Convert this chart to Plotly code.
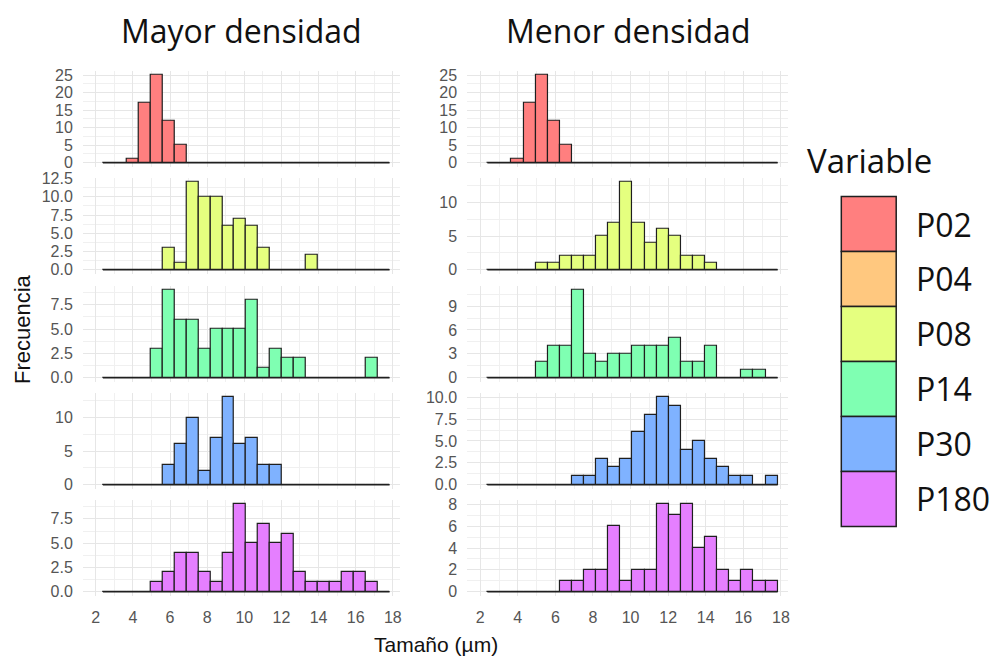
import plotly.graph_objects as go

# Canvas size in pixels
W, H = 998, 661

# Legend categories and their fill colours
variables = ["P02", "P04", "P08", "P14", "P30", "P180"]
fills = ["#FF7F7F", "#FFC87F", "#E5FF7F", "#7FFFB2", "#7FB2FF", "#E57FFF"]

# Facet layout: one row per variable, one column per density group
panel_vars = ["P02", "P08", "P14", "P30", "P180"]
groups = ["Mayor densidad", "Menor densidad"]

# Histogram binning shared by every panel
bin_start = 2.38
bin_width = 0.6437
n_bins = 24

# Counts per bin (24 bins)
mayor_P02 = [0, 0, 1, 17, 25, 12, 5, 0, 0, 0, 0, 0, 0, 0, 0, 0, 0, 0, 0, 0, 0, 0, 0, 0]
mayor_P08 = [0, 0, 0, 0, 0, 3, 1, 12, 10, 10, 6, 7, 6, 3, 0, 0, 0, 2, 0, 0, 0, 0, 0, 0]
mayor_P14 = [0, 0, 0, 0, 3, 9, 6, 6, 3, 5, 5, 5, 8, 1, 3, 2, 2, 0, 0, 0, 0, 0, 2, 0]
mayor_P30 = [0, 0, 0, 0, 0, 3, 6, 10, 2, 7, 13, 6, 7, 3, 3, 0, 0, 0, 0, 0, 0, 0, 0, 0]
mayor_P180 = [0, 0, 0, 0, 1, 2, 4, 4, 2, 1, 4, 9, 5, 7, 5, 6, 2, 1, 1, 1, 2, 2, 1, 0]

menor_P02 = [0, 0, 1, 17, 25, 12, 5, 0, 0, 0, 0, 0, 0, 0, 0, 0, 0, 0, 0, 0, 0, 0, 0, 0]
menor_P08 = [0, 0, 0, 0, 1, 1, 2, 2, 2, 5, 7, 13, 7, 4, 6, 5, 2, 2, 1, 0, 0, 0, 0, 0]
menor_P14 = [0, 0, 0, 0, 2, 4, 4, 11, 3, 2, 3, 3, 4, 4, 4, 5, 2, 2, 4, 0, 0, 1, 1, 0]
menor_P30 = [0, 0, 0, 0, 0, 0, 0, 1, 1, 3, 2, 3, 6, 8, 10, 9, 4, 5, 3, 2, 1, 1, 0, 1]
menor_P180 = [0, 0, 0, 0, 0, 0, 1, 1, 2, 2, 6, 1, 2, 2, 8, 7, 8, 4, 5, 2, 1, 2, 1, 1]

x_ticks = [2, 4, 6, 8, 10, 12, 14, 16, 18]

counts = {
    "Mayor densidad": {"P02": mayor_P02, "P08": mayor_P08, "P14": mayor_P14,
                       "P30": mayor_P30, "P180": mayor_P180},
    "Menor densidad": {"P02": menor_P02, "P08": menor_P08, "P14": menor_P14,
                       "P30": menor_P30, "P180": menor_P180},
}

# y tick spacing per panel (row, column)
y_step = {
    (0, 0): 5, (0, 1): 5,
    (1, 0): 2.5, (1, 1): 5,
    (2, 0): 2.5, (2, 1): 3,
    (3, 0): 5, (3, 1): 2.5,
    (4, 0): 2.5, (4, 1): 2,
}

# Panel placement in pixels
col_px = [(83, 401), (468, 790)]
row_px = [(64, 162), (173, 271), (283, 381), (392, 490), (501, 599)]
x_range = [1.3, 18.4]

edges = [bin_start + i * bin_width for i in range(n_bins + 1)]
centers = [(edges[i] + edges[i + 1]) / 2 for i in range(n_bins)]

TICK_FONT = dict(family="Liberation Sans, Arial, sans-serif", size=16, color="#555555")
AXIS_FONT = "Liberation Sans, Arial, sans-serif"
BIG_FONT = "Open Sans, Noto Sans, sans-serif"
OUTLINE = "#1f1f1f"

fig = go.Figure()
layout_axes = {}

for r, var in enumerate(panel_vars):
    color = fills[variables.index(var)]
    for c, grp in enumerate(groups):
        k = r * 2 + c + 1
        xa = "x" if k == 1 else f"x{k}"
        ya = "y" if k == 1 else f"y{k}"
        vals = counts[grp][var]
        ymax = max(vals)

        fig.add_trace(go.Bar(
            x=centers, y=vals, width=bin_width,
            marker=dict(color=color, line=dict(color=OUTLINE, width=1.2)),
            xaxis=xa, yaxis=ya, showlegend=False, hoverinfo="x+y",
        ))
        # outline of the empty bins along the base
        fig.add_trace(go.Scatter(
            x=[edges[0], edges[-1]], y=[0, 0], mode="lines",
            line=dict(color=OUTLINE, width=1.4),
            xaxis=xa, yaxis=ya, showlegend=False, hoverinfo="skip",
        ))

        x0, x1 = col_px[c]
        y0, y1 = row_px[r]
        step = y_step[(r, c)]
        kx = "xaxis" if k == 1 else f"xaxis{k}"
        ky = "yaxis" if k == 1 else f"yaxis{k}"
        layout_axes[kx] = dict(
            domain=[x0 / W, x1 / W], range=x_range, anchor=ya,
            tickmode="array", tickvals=x_ticks,
            showticklabels=(r == len(panel_vars) - 1),
            tickfont=TICK_FONT, ticks="", ticklabelstandoff=10,
            showline=False, zeroline=False,
            showgrid=True, gridcolor="#e6e6e6", gridwidth=1,
            minor=dict(tickmode="array", tickvals=[t + 1 for t in x_ticks[:-1]],
                       showgrid=True, gridcolor="#f0f0f0", gridwidth=0.8),
        )
        layout_axes[ky] = dict(
            domain=[1 - y1 / H, 1 - y0 / H],
            range=[-0.05 * ymax, 1.05 * ymax], anchor=xa,
            tick0=0, dtick=step, tickformat=".1f" if step == 2.5 else "d",
            tickfont=TICK_FONT, ticks="", ticklabelstandoff=9,
            showline=False, zeroline=False,
            showgrid=True, gridcolor="#e6e6e6", gridwidth=1,
            minor=dict(tick0=0, dtick=step / 2, showgrid=True,
                       gridcolor="#f0f0f0", gridwidth=0.8),
        )

annotations = []
# Column titles
for c, grp in enumerate(groups):
    x0, x1 = col_px[c]
    annotations.append(dict(
        text=grp, x=(x0 + x1) / 2 / W, y=1 - 23 / H, xref="paper", yref="paper",
        showarrow=False, xanchor="center", yanchor="middle",
        font=dict(family=BIG_FONT, size=32, color="#111"),
    ))
# Axis titles
annotations.append(dict(
    text="Tamaño (µm)", x=437 / W, y=1 - 648 / H, xref="paper", yref="paper",
    showarrow=False, xanchor="center", yanchor="middle",
    font=dict(family=AXIS_FONT, size=21, color="#111"),
))
annotations.append(dict(
    text="Frecuencia", x=22 / W, y=1 - 327 / H, xref="paper", yref="paper",
    showarrow=False, xanchor="center", yanchor="middle", textangle=-90,
    font=dict(family=AXIS_FONT, size=22, color="#111"),
))

# Legend drawn as stacked swatches
shapes = []
annotations.append(dict(
    text="Variable", x=807 / W, y=1 - 155 / H, xref="paper", yref="paper",
    showarrow=False, xanchor="left", yanchor="middle",
    font=dict(family=BIG_FONT, size=33, color="#111"),
))
sw_x0, sw_x1, sw_top, sw_h = 843, 898, 192, 56
for i, (name, col) in enumerate(zip(variables, fills)):
    top = sw_top + i * sw_h
    shapes.append(dict(
        type="rect", xref="paper", yref="paper",
        x0=sw_x0 / W, x1=sw_x1 / W, y0=1 - (top + sw_h) / H, y1=1 - top / H,
        fillcolor=col, line=dict(color=OUTLINE, width=1.5), layer="above",
    ))
    annotations.append(dict(
        text=name, x=916 / W, y=1 - (top + sw_h / 2) / H, xref="paper", yref="paper",
        showarrow=False, xanchor="left", yanchor="middle",
        font=dict(family=BIG_FONT, size=32, color="#111"),
    ))

fig.update_layout(
    width=W, height=H, margin=dict(l=0, r=0, t=0, b=0),
    paper_bgcolor="white", plot_bgcolor="white",
    bargap=0, showlegend=False,
    annotations=annotations, shapes=shapes,
    **layout_axes,
)

fig.write_html("out.html")
